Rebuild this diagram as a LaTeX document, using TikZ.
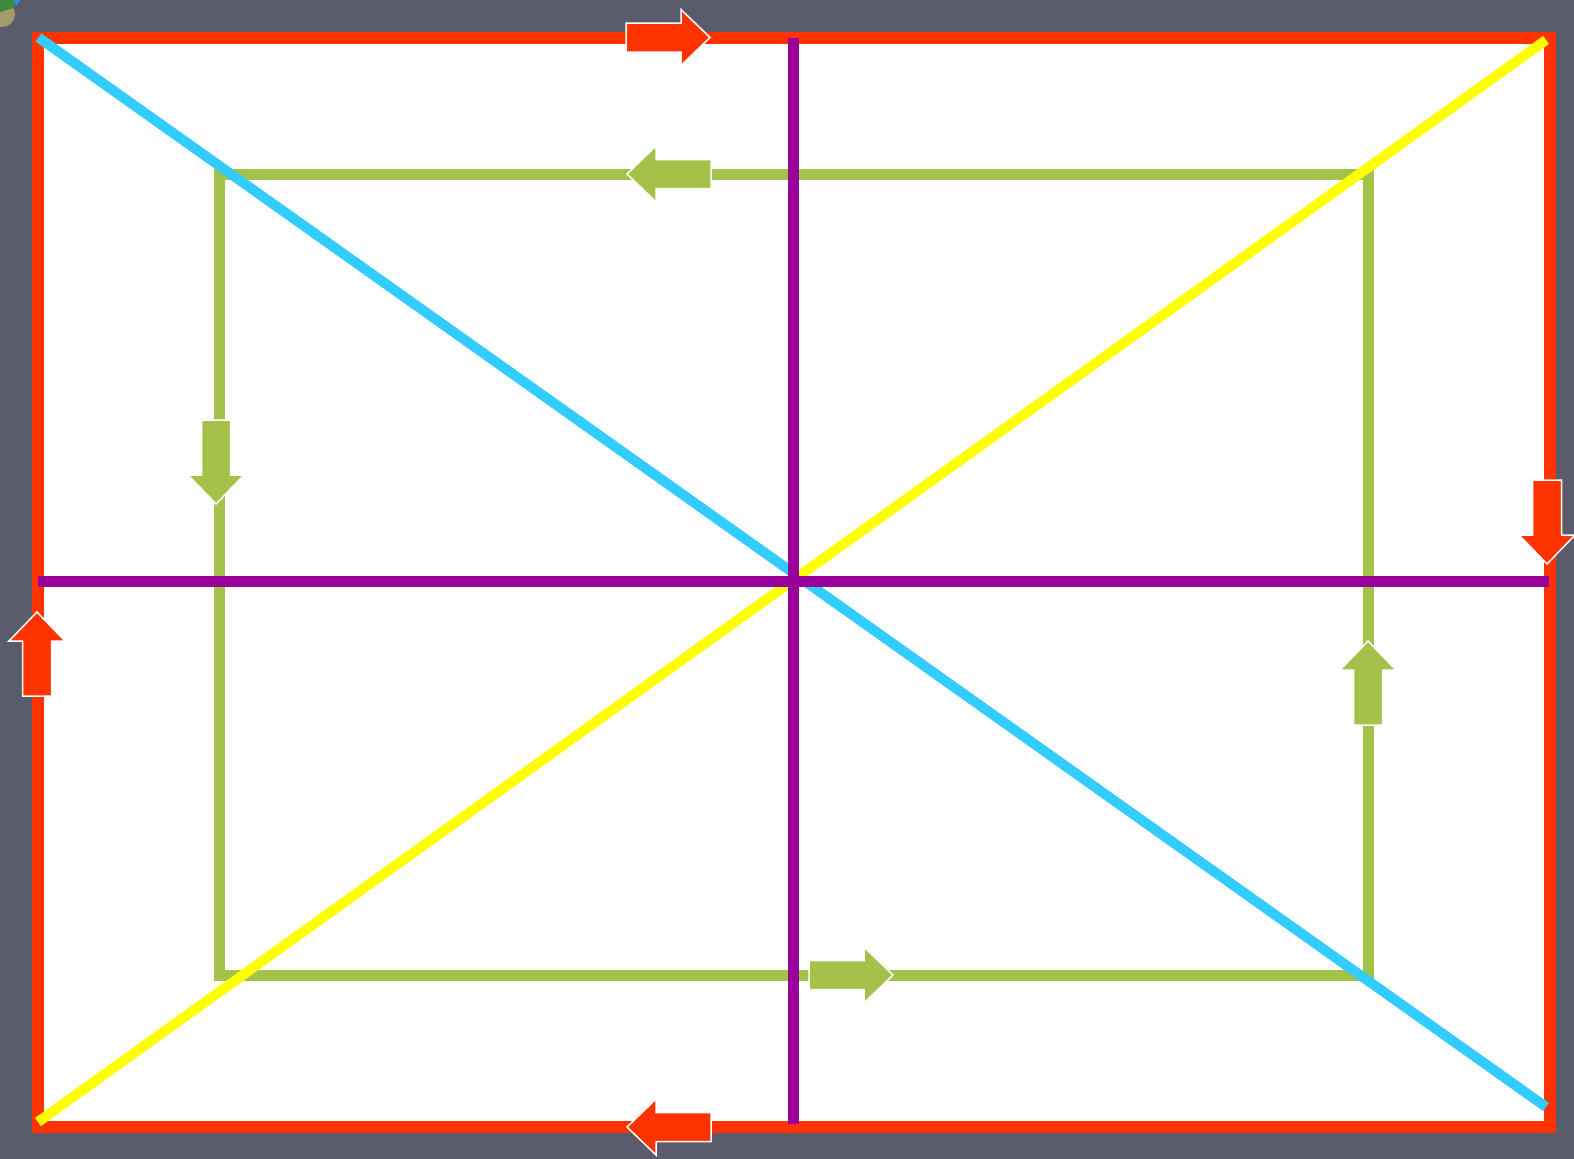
\documentclass[tikz,border=0pt]{standalone}
\definecolor{bgc}{HTML}{5A5C6C}
\definecolor{redc}{HTML}{FF3300}
\definecolor{bluec}{HTML}{33CCFF}
\definecolor{yelc}{HTML}{FFFF00}
\definecolor{purc}{HTML}{990099}
\definecolor{grnc}{HTML}{A4C24A}
\definecolor{tanc}{HTML}{A39C6B}
\definecolor{leafc}{HTML}{3F8A3A}
\newcommand\blockarr[3]{%
  \filldraw[fill=#1, draw=white, line width=1.5pt, line join=miter, shift={(#2)}, rotate=#3]
    (0,-14.5) -- (55,-14.5) -- (55,-28) -- (84,0) -- (55,28) -- (55,14.5) -- (0,14.5) -- cycle;}
\begin{document}
\begin{tikzpicture}[x=1pt,y=-1pt,
  frame/.style={draw=redc, line width=12pt, line join=miter},
  diag/.style={line width=10pt, line cap=butt},
  cross/.style={draw=purc, line width=11pt, line cap=butt},
  loop/.style={draw=grnc, line width=11pt, line join=miter}]
\useasboundingbox (0,0) rectangle (1574,1159);
% background
\fill[bgc] (0,0) rectangle (1574,1159);
% decorative blob top-left
\begin{scope}
  \clip (0,0) rectangle (1574,1159);
  \fill[tanc] (2,14) circle (13);
  \fill[leafc] (0,0) -- (16,0) -- (14,8) -- (6,10) -- (0,12) -- cycle;
  \fill[bluec!70!blue] (14,0) -- (20,0) -- (16,6) -- cycle;
\end{scope}
% white field + red frame
\fill[white] (38,38) rectangle (1550,1126.5);
\draw[frame] (38,38) rectangle (1550,1126.5);
% green inner loop
\draw[loop] (219,174) rectangle (1368,975);
% diagonals
\draw[diag, draw=bluec] (38.5,37.5) -- (1546,1107);
\draw[diag, draw=yelc] (38,1122) -- (1546,40);
% purple cross
\draw[cross] (793.5,38) -- (793.5,1124);
\draw[cross] (38,581.5) -- (1549,581.5);
% red arrows on frame
\blockarr{redc}{626,37.5}{0}
\blockarr{redc}{1547,480}{-90}
\blockarr{redc}{37,696}{90}
\blockarr{redc}{711,1127}{180}
% green arrows on loop
\blockarr{grnc}{711,174}{180}
\blockarr{grnc}{216,420}{-90}
\blockarr{grnc}{809,975}{0}
\blockarr{grnc}{1368,725}{90}
\end{tikzpicture}
\end{document}
